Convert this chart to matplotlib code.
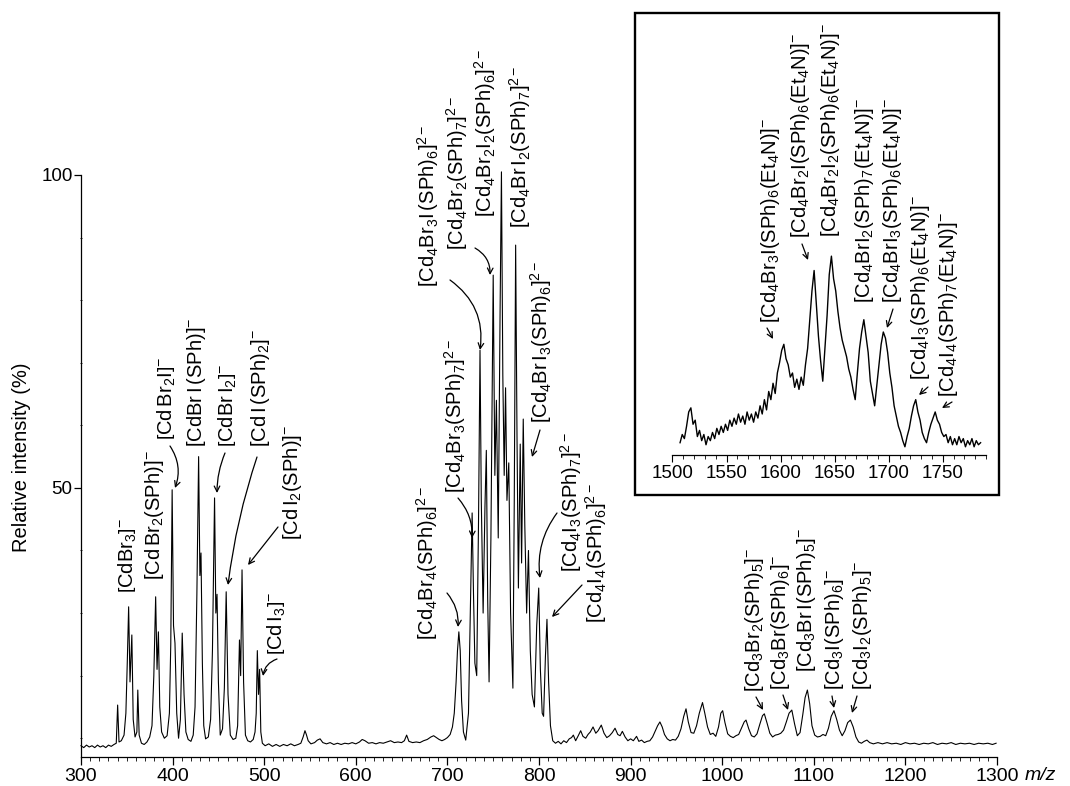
import matplotlib
matplotlib.use("Agg")
import matplotlib.pyplot as plt
from matplotlib.patches import Rectangle
from matplotlib.ticker import MultipleLocator, FixedLocator

plt.rcParams['font.family'] = ['Liberation Sans', 'DejaVu Sans']
plt.rcParams['mathtext.fontset'] = 'custom'
plt.rcParams['mathtext.rm'] = 'Liberation Sans'
plt.rcParams['mathtext.it'] = 'Liberation Sans:italic'
plt.rcParams['mathtext.bf'] = 'Liberation Sans:bold'

# ---------------- data (m/z, relative intensity %) ----------------
region_monoanions = [
    (300, 8.8), (303, 8.5), (306, 8.9), (309, 8.6), (312, 8.8), (315, 8.5), (318, 8.9), (321, 8.6),
    (324, 8.8), (327, 8.5), (330, 8.9), (333, 8.7), (336, 9.0), (338.5, 9.2), (340, 15.3), (341.5, 9.4),
    (344, 9.6), (347, 10.5), (349, 14), (350.5, 22), (352, 31), (353.5, 19), (355.5, 26.5), (357, 13),
    (359, 10.2), (361, 11), (362, 17.7), (363.5, 10.5), (366, 9.2), (369, 9.0), (372, 9.4), (375, 10.2),
    (377.5, 12), (379.5, 20), (381.5, 32.6), (383, 21), (384.5, 27), (386, 15), (388, 11), (391, 10),
    (394, 10.4), (396.5, 14), (398, 25), (399.5, 49.7), (401, 28), (402.6, 25.2), (404.5, 14), (406.5, 10),
    (408.5, 13), (410.5, 26.8), (412.5, 17), (414.5, 11), (417, 9.8), (420, 9.5), (422.5, 10.5),
    (424.5, 15), (426.5, 33), (428.4, 55), (429.8, 36), (431, 39.6), (432.5, 22), (434, 12), (436, 9.9),
    (439, 10.2), (441.5, 13), (443.5, 24), (445.8, 48.4), (447.2, 30), (448.5, 33), (450, 19),
    (452, 10.5), (454.5, 11.5), (456.5, 18), (458.5, 33.4), (460.5, 17), (463, 10.5), (466, 9.8),
    (469, 10), (471, 12), (473, 25.7), (474.3, 20), (475.8, 36.9), (477.5, 19), (479.5, 10.5),
    (482, 9.6), (485, 9.4), (488, 9.8), (490, 11), (491.3, 14), (492.5, 24), (493.8, 17), (495, 21),
    (496.3, 11), (498, 9.2),
]
region_baseline_mid = [
    (501, 8.8), (505, 9.1), (509, 8.7), (513, 9.0), (517, 8.7), (521, 9.0), (525, 8.8), (529, 9.1),
    (533, 8.8), (537, 9.0), (540, 9.2), (542.5, 10.2), (544.5, 11.2), (546, 10.6), (548, 9.6),
    (551, 9.1), (555, 9.3), (558, 9.7), (561, 9.9), (564, 9.3), (568, 9.1), (572, 9.3), (576, 9.0),
    (580, 9.2), (584, 9.0), (588, 9.2), (592, 9.1), (596, 9.3), (600, 9.1), (604, 9.4), (607, 9.8),
    (610, 9.6), (614, 9.2), (618, 9.3), (622, 9.1), (626, 9.3), (630, 9.2), (634, 9.4), (638, 9.6),
    (642, 9.3), (646, 9.4), (650, 9.3), (653, 9.6), (655.5, 10.5), (658, 9.5), (662, 9.3), (666, 9.4),
    (670, 9.3), (674, 9.6), (678, 9.8), (682, 10.2), (685, 10.4), (688, 10.1), (691, 9.8), (694, 9.6),
    (697, 9.8), (700, 10.1), (703, 10.6), (705.5, 11.8), (707.5, 14), (709.5, 19), (711, 24),
    (712.5, 27), (714, 24), (715.5, 16), (717.5, 11),
]
region_dianions = [
    (720, 9.7), (723, 14), (725, 30), (727, 46), (728.5, 33), (730, 22), (732, 20), (734, 45),
    (735.6, 72), (737, 48), (739, 30), (741, 47), (742.5, 56), (744, 32), (745.5, 19), (747.5, 42),
    (750, 84), (751.8, 52), (753.5, 64), (755.5, 42), (757.5, 78), (759, 100.5), (760.5, 68),
    (762, 52), (763.5, 66), (765, 48), (767, 54), (769, 30), (771.5, 18), (773, 48), (774.5, 88.8),
    (776, 58), (777.5, 34), (779.5, 57), (781, 38), (782.8, 61), (784.5, 44), (786.5, 30),
    (788.5, 40), (790.5, 24), (792.5, 17), (795, 15), (797.5, 28), (799.7, 34), (801.5, 21),
    (803.5, 14), (805, 13.5), (807, 23), (808.7, 29), (810.5, 19), (812.5, 12), (815, 9.6),
]
region_trinuclear = [
    (818, 9.2), (821, 9.5), (824, 9.1), (827, 9.6), (830, 9.3), (833, 9.9), (835.5, 10.1),
    (837.5, 10.5), (840, 9.6), (842.5, 10.3), (845.5, 11.2), (848, 10.3), (851, 10.0), (853.5, 10.6),
    (856, 11), (859, 11.8), (862, 10.8), (864.5, 11.2), (868, 12.1), (871, 10.8), (874, 10.1),
    (877, 10.4), (880, 10.9), (883, 11.6), (886, 10.6), (888.5, 10.4), (891, 11.1), (894, 10.2),
    (897, 9.6), (900, 9.9), (903, 9.6), (906.5, 10.3), (909, 9.5), (912, 9.7), (915, 9.3), (918, 9.5),
    (921, 9.6), (924, 10.2), (927, 11.2), (929.5, 12.0), (932, 12.6), (934.5, 11.8), (937, 10.6),
    (940, 9.9), (943, 9.6), (946, 9.8), (949, 9.7), (952, 10.3), (955, 11.5), (958, 13.5),
    (960.5, 14.7), (963, 12.6), (966, 10.9), (969, 10.8), (972, 12.0), (975, 14.0), (978.5, 15.7),
    (981, 14.0), (984, 11.8), (987, 10.6), (990, 10.8), (993, 10.3), (996, 11.8), (998.5, 14.0),
    (1000.5, 14.4), (1003, 12.5), (1006, 10.7), (1009, 10.3), (1012, 10.1), (1015, 10.4),
    (1018, 10.6), (1021, 11.6), (1024, 12.6), (1026, 12.9), (1029, 11.5), (1032, 10.4), (1035, 10.2),
    (1038, 10.7), (1041, 12.2), (1044, 13.6), (1046, 13.9), (1049, 12.4), (1052, 10.8), (1055, 10.2),
    (1058, 10.5), (1061, 10.6), (1064, 10.8), (1067, 11.3), (1070, 12.6), (1073, 14.0), (1076, 14.5),
    (1079, 12.3), (1082, 10.4), (1085, 10.9), (1088, 13.8), (1090.5, 16.5), (1093, 17.7),
    (1095.5, 15.5), (1098, 12.0), (1101, 10.5), (1104, 10.2), (1107, 10.3), (1110, 10.6),
    (1113, 10.4), (1116, 11.6), (1119, 13.5), (1122, 14.4), (1125, 13.0), (1128, 11.3), (1131, 10.4),
    (1134, 11.2), (1137, 12.5), (1140, 12.9), (1143, 11.8), (1146, 10.2), (1149, 9.4), (1152, 9.2),
    (1155, 9.5), (1158, 9.7), (1161, 9.3), (1165, 9.1), (1170, 9.3), (1175, 9.1), (1180, 9.3),
    (1185, 9.1), (1190, 9.2), (1195, 9.0), (1200, 9.3), (1205, 9.1), (1210, 9.2), (1215, 9.0),
    (1220, 9.2), (1225, 9.1), (1230, 9.3), (1235, 9.0), (1240, 9.2), (1245, 9.1), (1250, 9.3),
    (1255, 9.0), (1260, 9.2), (1265, 9.1), (1270, 9.2), (1275, 9.0), (1280, 9.2), (1285, 9.1),
    (1290, 9.2), (1295, 9.0), (1299, 9.2),
]

# inset: m/z 1507..1785 sampled every 2 units, intensity in arbitrary units
inset_mz = list(range(1507, 1787, 2))
inset_int = [
    6, 10, 8, 14, 21, 23, 15, 17, 9, 12, 7, 10, 5, 9, 7, 11, 8, 13, 10, 14,
    11, 15, 12, 17, 14, 18, 15, 20, 16, 19, 15, 21, 17, 20, 16, 21, 18, 24, 20, 27,
    22, 31, 27, 35, 30, 40, 45, 51, 54, 47, 44, 38, 40, 33, 37, 32, 38, 34, 44, 52,
    66, 80, 90, 74, 58, 46, 36, 52, 68, 88, 97, 86, 80, 70, 62, 56, 52, 48, 42, 38,
    32, 27, 40, 52, 60, 66, 58, 50, 36, 30, 24, 34, 44, 54, 60, 57, 50, 40, 33, 24,
    19, 14, 11, 7, 4, 9, 13, 19, 24, 27, 21, 17, 11, 8, 6, 11, 15, 18, 21, 17,
    15, 11, 9, 10, 6, 9, 5, 8, 5, 9, 6, 8, 4, 7, 5, 8, 4, 7, 5, 6,
]

x_major_ticks = list(range(300, 1301, 100))
y_major_ticks = [50, 100]
inset_major_ticks = list(range(1500, 1751, 50))

main_labels = [
    r"$\left[\mathrm{CdBr_3}\right]^{-}$",
    r"$\left[\mathrm{Cd\,Br_2(SPh)}\right]^{-}$",
    r"$\left[\mathrm{Cd\,Br_2I}\right]^{-}$",
    r"$\left[\mathrm{CdBr\,I\,(SPh)}\right]^{-}$",
    r"$\left[\mathrm{CdBr\,I_2}\right]^{-}$",
    r"$\left[\mathrm{Cd\,I\,(SPh)_2}\right]^{-}$",
    r"$\left[\mathrm{Cd\,I_2(SPh)}\right]^{-}$",
    r"$\left[\mathrm{Cd\,I_3}\right]^{-}$",
    r"$\left[\mathrm{Cd_4Br_4(SPh)_6}\right]^{2-}$",
    r"$\left[\mathrm{Cd_4Br_3(SPh)_7}\right]^{2-}$",
    r"$\left[\mathrm{Cd_4Br_3I\,(SPh)_6}\right]^{2-}$",
    r"$\left[\mathrm{Cd_4Br_2(SPh)_7}\right]^{2-}$",
    r"$\left[\mathrm{Cd_4Br_2I_2(SPh)_6}\right]^{2-}$",
    r"$\left[\mathrm{Cd_4Br\,I_2(SPh)_7}\right]^{2-}$",
    r"$\left[\mathrm{Cd_4Br\,I_3(SPh)_6}\right]^{2-}$",
    r"$\left[\mathrm{Cd_4I_3(SPh)_7}\right]^{2-}$",
    r"$\left[\mathrm{Cd_4I_4(SPh)_6}\right]^{2-}$",
    r"$\left[\mathrm{Cd_3Br_2(SPh)_5}\right]^{-}$",
    r"$\left[\mathrm{Cd_3Br(SPh)_6}\right]^{-}$",
    r"$\left[\mathrm{Cd_3Br\,I(SPh)_5}\right]^{-}$",
    r"$\left[\mathrm{Cd_3I(SPh)_6}\right]^{-}$",
    r"$\left[\mathrm{Cd_3I_2(SPh)_5}\right]^{-}$",
]
inset_labels = [
    r"$\left[\mathrm{Cd_4Br_3I(SPh)_6(Et_4N)}\right]^{-}$",
    r"$\left[\mathrm{Cd_4Br_2I(SPh)_6(Et_4N)}\right]^{-}$",
    r"$\left[\mathrm{Cd_4Br_2I_2(SPh)_6(Et_4N)}\right]^{-}$",
    r"$\left[\mathrm{Cd_4BrI_2(SPh)_7(Et_4N)}\right]^{-}$",
    r"$\left[\mathrm{Cd_4BrI_3(SPh)_6(Et_4N)}\right]^{-}$",
    r"$\left[\mathrm{Cd_4I_3(SPh)_6(Et_4N)}\right]^{-}$",
    r"$\left[\mathrm{Cd_4I_4(SPh)_7(Et_4N)}\right]^{-}$",
]

# ---------------- layout (figure pixels, y measured from top) ----------------
W, H = 1070, 786
def fx(x):
    return x / W
def fy(y):
    return (H - y) / H

main_label_pos = [(128, 593), (154, 580), (167, 440), (197, 447), (228, 447), (260, 447),
                  (293, 540), (277, 655), (427, 640), (455, 493), (428, 287), (457, 250),
                  (485, 217), (520, 228), (541, 423), (571, 572), (596, 623), (755, 692),
                  (781, 690), (807, 672), (835, 690), (862, 690)]
inset_label_pos = [(771, 323), (801, 238), (830, 237), (864, 303), (892, 303), (920, 380), (948, 397)]

arrows = [  # (x1, y1) -> (x2, y2), curvature
    ((170, 446), (175, 488), -0.25),
    ((225, 453), (217, 493), 0.1),
    ((257, 457), (228, 585), 0.05),
    ((278, 527), (248, 565), 0.0),
    ((277, 659), (263, 676), 0.3),
    ((447, 593), (458, 627), -0.2),
    ((458, 498), (472, 538), -0.2),
    ((450, 280), (480, 350), -0.3),
    ((475, 248), (490, 275), -0.3),
    ((540, 430), (532, 457), 0.0),
    ((557, 513), (540, 578), 0.2),
    ((582, 585), (552, 617), 0.0),
    ((756, 697), (763, 710), 0.0),
    ((783, 695), (788, 710), 0.0),
    ((832, 696), (834, 708), 0.0),
    ((857, 696), (852, 713), 0.0),
    ((767, 328), (773, 339), 0.0),
    ((802, 244), (808, 260), 0.0),
    ((893, 309), (887, 328), 0.0),
    ((928, 387), (919, 395), 0.0),
    ((952, 402), (942, 408), 0.0),
]

# ---------------- figure ----------------
fig = plt.figure(figsize=(W / 100, H / 100), dpi=100)

ax = fig.add_axes([fx(81), fy(757), (997 - 81) / W, (757 - 175) / H])
profile = region_monoanions + region_baseline_mid + region_dianions + region_trinuclear
ax.plot([p[0] for p in profile], [p[1] for p in profile], color='black', lw=0.8, clip_on=False)
ax.set_xlim(300, 1300)
ax.set_ylim(7.0, 100)
for s in ['top', 'right']:
    ax.spines[s].set_visible(False)
for s in ['left', 'bottom']:
    ax.spines[s].set_linewidth(0.9)
ax.set_xticks(x_major_ticks)
ax.xaxis.set_minor_locator(MultipleLocator(10))
ax.set_yticks(y_major_ticks)
ax.yaxis.set_minor_locator(FixedLocator([10, 20, 30, 40, 60, 70, 80, 90]))
ax.tick_params(axis='x', which='major', direction='out', length=6, width=0.9, labelsize=14, pad=2)
ax.tick_params(axis='x', which='minor', direction='out', length=3, width=0.6)
ax.tick_params(axis='y', which='major', direction='out', length=5, width=0.9, labelsize=13.5, pad=1)
ax.tick_params(axis='y', which='minor', direction='inout', length=2, width=0.6)

fig.text(fx(22), fy(457), 'Relative intensity (%)', rotation=90, ha='center', va='center', fontsize=14.5)
fig.text(fx(1025), fy(775), 'm/z', style='italic', ha='left', va='center', fontsize=14)

# inset
fig.add_artist(Rectangle((fx(635), fy(495)), (999 - 635) / W, (495 - 13) / H,
                         transform=fig.transFigure, fill=False, lw=1.7, ec='black'))
ins = fig.add_axes([fx(672.5), fy(455), (986 - 672.5) / W, 205 / H])
ins.patch.set_alpha(0)
ins.plot(inset_mz, inset_int[:len(inset_mz)], color='black', lw=1.0, clip_on=False)
ins.set_xlim(1505, 1790)
ins.set_ylim(0, 100)
for s in ['top', 'right', 'left']:
    ins.spines[s].set_visible(False)
ins.spines['bottom'].set_linewidth(0.9)
ins.set_yticks([])
ins.set_xticks(inset_major_ticks)
ins.xaxis.set_minor_locator(MultipleLocator(10))
ins.tick_params(axis='x', which='major', direction='out', length=5, width=0.8, labelsize=13.5, pad=2)
ins.tick_params(axis='x', which='minor', direction='out', length=3, width=0.6)

for s, (x, y) in zip(main_labels + inset_labels, main_label_pos + inset_label_pos):
    fig.text(fx(x), fy(y), s, rotation=90, ha='center', va='bottom', fontsize=14.5)

for (p1, p2, rad) in arrows:
    ax.annotate('', xy=(fx(p2[0]), fy(p2[1])), xytext=(fx(p1[0]), fy(p1[1])),
                xycoords='figure fraction', textcoords='figure fraction',
                arrowprops=dict(arrowstyle='->,head_length=0.4,head_width=0.2', lw=0.9,
                                color='black', connectionstyle=f'arc3,rad={rad}',
                                shrinkA=0, shrinkB=0))

fig.savefig('out.png', dpi=100)
